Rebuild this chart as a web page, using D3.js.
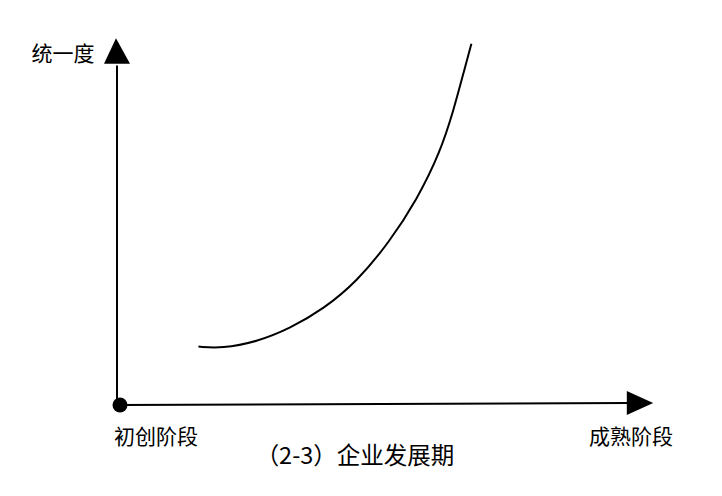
<!DOCTYPE html>
<html>
<head>
<meta charset="utf-8">
<script src="https://cdn.jsdelivr.net/npm/d3@7/dist/d3.min.js"></script>
<style>
  html, body { margin: 0; padding: 0; background: #fff; }
  svg { display: block; }
  text { font-family: "Noto Sans CJK SC", "Noto Sans", sans-serif; fill: #000; }
</style>
</head>
<body>
<svg id="chart" width="722" height="496"></svg>
<script>
// ---- data ----
const curveX = [1.48, 1.92, 2.58, 3.21, 3.84, 4.47, 5.09, 5.60, 6.04, 6.29, 6.50, 6.63];
const curveY = [1.60, 1.55, 1.73, 2.10, 2.63, 3.38, 4.48, 5.62, 6.92, 8.05, 9.20, 9.90];
const yAxisLabel = "统一度";
const xStartLabel = "初创阶段";
const xEndLabel = "成熟阶段";
const caption = "（2-3）企业发展期";

// ---- layout ----
const svg = d3.select("#chart");
const x = d3.scaleLinear().domain([0, 10]).range([120, 650]);
const y = d3.scaleLinear().domain([0, 10]).range([405, 40]);

const g = svg.append("g");

// y axis
const yAxisX = x(0) - 3;
g.append("line")
  .attr("x1", yAxisX).attr("y1", y(0))
  .attr("x2", yAxisX).attr("y2", y(9.3))
  .attr("stroke", "#000").attr("stroke-width", 2);
g.append("path")
  .attr("d", `M${yAxisX - 13},${y(9.35)} L${yAxisX + 13},${y(9.35)} L${yAxisX - 1},${y(10.05)} Z`)
  .attr("fill", "#000");

// x axis (slightly rising toward the arrow)
g.append("line")
  .attr("x1", x(0)).attr("y1", y(0))
  .attr("x2", x(9.6)).attr("y2", y(0.055))
  .attr("stroke", "#000").attr("stroke-width", 2);
g.append("path")
  .attr("d", `M${x(9.6) - 2},${y(0.055) - 12} L${x(9.6) - 2},${y(0.055) + 12} L${x(10.06)},${y(0.055)} Z`)
  .attr("fill", "#000");

// origin dot
g.append("circle")
  .attr("cx", x(0)).attr("cy", y(0)).attr("r", 7.5)
  .attr("fill", "#000");

// curve
const pts = curveX.map((v, i) => [v, curveY[i]]);
const line = d3.line()
  .x(d => x(d[0])).y(d => y(d[1]))
  .curve(d3.curveBasis);
g.append("path")
  .datum(pts)
  .attr("d", line)
  .attr("fill", "none")
  .attr("stroke", "#000")
  .attr("stroke-width", 2);

// labels
g.append("text")
  .attr("x", 63).attr("y", 52)
  .attr("text-anchor", "middle").attr("dominant-baseline", "central")
  .attr("font-size", 21)
  .text(yAxisLabel);
g.append("text")
  .attr("x", 156).attr("y", 435)
  .attr("text-anchor", "middle").attr("dominant-baseline", "central")
  .attr("font-size", 21)
  .text(xStartLabel);
g.append("text")
  .attr("x", 631).attr("y", 435)
  .attr("text-anchor", "middle").attr("dominant-baseline", "central")
  .attr("font-size", 21)
  .text(xEndLabel);
g.append("text")
  .attr("x", 355).attr("y", 454)
  .attr("text-anchor", "middle").attr("dominant-baseline", "central")
  .attr("font-size", 23.5)
  .text(caption);
</script>
</body>
</html>
